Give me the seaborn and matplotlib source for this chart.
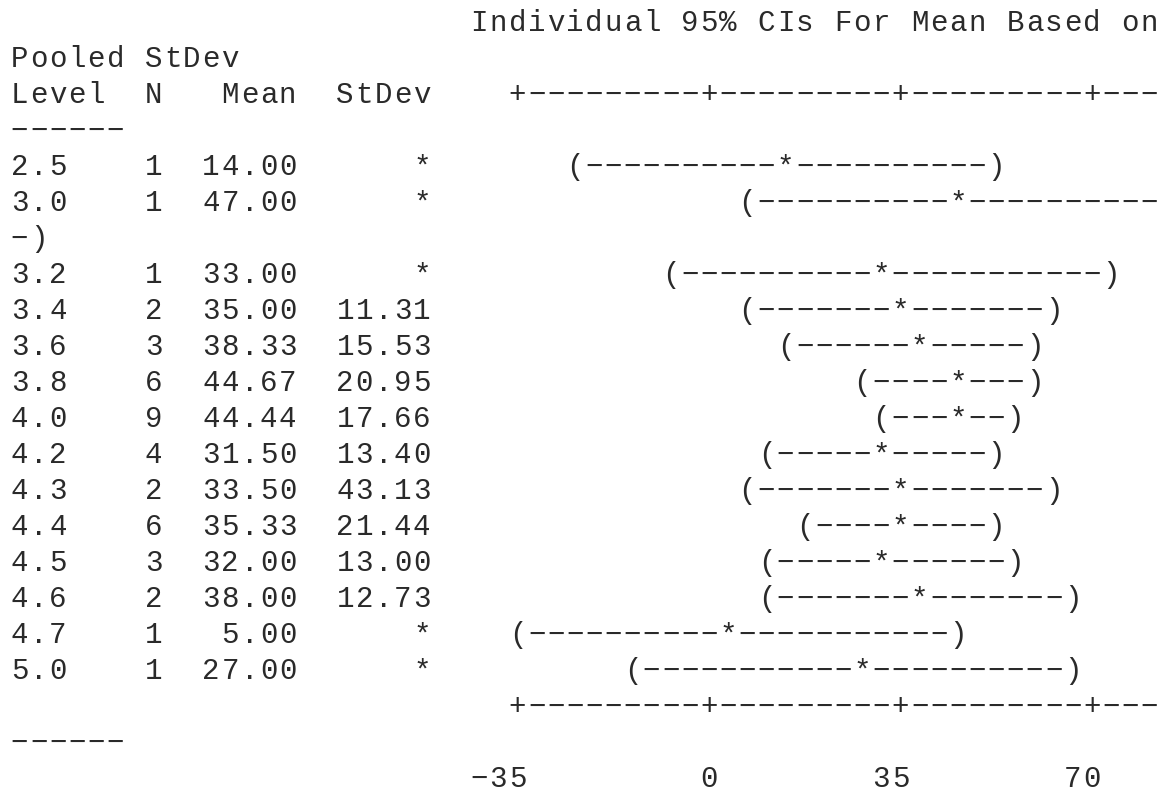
import matplotlib
matplotlib.use("Agg")
import matplotlib.pyplot as plt
import seaborn as sns
import numpy as np

# Minitab one-way ANOVA summary
levels = ["2.5", "3.0", "3.2", "3.4", "3.6", "3.8", "4.0", "4.2",
          "4.3", "4.4", "4.5", "4.6", "4.7", "5.0"]
counts = [1, 1, 1, 2, 3, 6, 9, 4, 2, 6, 3, 2, 1, 1]
means = [14.00, 47.00, 33.00, 35.00, 38.33, 44.67, 44.44, 31.50,
         33.50, 35.33, 32.00, 38.00, 5.00, 27.00]
stdevs = [np.nan, np.nan, np.nan, 11.31, 15.53, 20.95, 17.66, 13.40,
          43.13, 21.44, 13.00, 12.73, np.nan, np.nan]
tick_values = [-35, 0, 35, 70]
tick_labels = ["-35", "0", "35", "70"]
title_lines = ["Individual 95% CIs For Mean Based on", "Pooled StDev"]
col_headers = ["Level", "N", "Mean", "StDev"]

T_CRIT = 2.048      # t(0.975, df=28)

# character grid of the text output
LINE_W = 60         # characters before the line wraps
TITLE_COL = 24
AXIS_COL = 26       # column of the first '+'
CHARS_PER_TICK = 10
AXIS_LEN = 40
units_per_char = (tick_values[1] - tick_values[0]) / CHARS_PER_TICK

n = np.array(counts)
s = np.array(stdevs)
df = n.sum() - len(n)
pooled_sd = np.sqrt(np.nansum((n - 1) * s ** 2) / df)
half_width = T_CRIT * pooled_sd / np.sqrt(n)


def val_to_col(v):
    return AXIS_COL + int(np.floor((v - tick_values[0]) / units_per_char + 0.5))


def axis_rule():
    return "".join("+" if i % CHARS_PER_TICK == 0 else "-" for i in range(AXIS_LEN))


# logical lines as lists of (column, text)
logical = []
logical.append([(TITLE_COL, title_lines[0])])
logical.append([(0, title_lines[1])])
header = f"{col_headers[0]:<7}{col_headers[1]}{col_headers[2]:>7}{col_headers[3]:>7}"
logical.append([(0, header), (AXIS_COL, axis_rule())])
for lvl, cnt, m, sd, h in zip(levels, counts, means, stdevs, half_width):
    sd_txt = "*" if np.isnan(sd) else f"{sd:.2f}"
    row = f"{lvl:<7}{cnt}{m:>7.2f}{sd_txt:>7}"
    lo, mid, hi = val_to_col(m - h), val_to_col(m), val_to_col(m + h)
    bar = "(" + "-" * (mid - lo - 1) + "*" + "-" * (hi - mid - 1) + ")"
    logical.append([(0, row), (lo, bar)])
logical.append([(AXIS_COL, axis_rule())])
label_segs = []
for v, lab in zip(tick_values, tick_labels):
    label_segs.append((val_to_col(v) - len(lab) + 1, lab))
logical.append(label_segs)

# wrap into physical lines
lines = []
for segs in logical:
    chars = []
    for col, txt in segs:
        for i, ch in enumerate(txt):
            if ch != " ":
                chars.append((col + i, ch))
    n_wrap = max(c for c, _ in chars) // LINE_W + 1
    for k in range(n_wrap):
        lines.append([(c - k * LINE_W, ch) for c, ch in chars if c // LINE_W == k])

sns.set_theme(style="white")
plt.rcParams["font.family"] = ["Liberation Mono", "DejaVu Sans Mono"]

fig = plt.figure(figsize=(11.71, 7.96), dpi=100)
ax = fig.add_axes([0, 0, 1, 1])
pitch = 19.15   # px per character
lead = 36.0     # px per line
ax.set_xlim(-10 / pitch, (1171 - 10) / pitch)
ax.set_ylim((796 - 22) / lead, -22 / lead)
ax.axis("off")

glyph = {"-": "\u2212"}
for li, chars in enumerate(lines):
    for c, ch in chars:
        ax.text(c + 0.5, li + 0.26, glyph.get(ch, ch), ha="center", va="baseline",
                fontsize=21, color="#2a2a2a")

fig.savefig("out.png", dpi=100, facecolor="white")
